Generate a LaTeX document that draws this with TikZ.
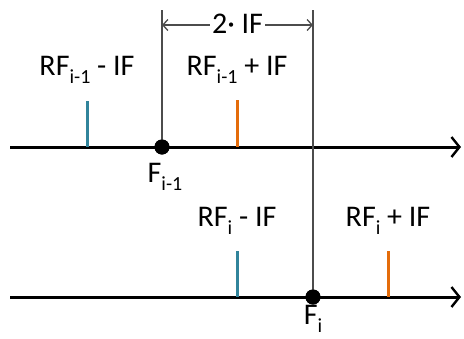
\documentclass[tikz,border=0pt]{standalone}
\usepackage{fontspec}
\setmainfont{Carlito}
\usetikzlibrary{arrows.meta}
\definecolor{tickblue}{HTML}{31849B}
\definecolor{tickorange}{HTML}{E46C0A}
\newcommand{\mysb}[1]{\raisebox{-0.25em}{\fontsize{20}{20}\selectfont #1}}
\begin{document}
\begin{tikzpicture}[x=1pt,y=-1pt,
  axis/.style={line width=3pt,-{Straight Barb[length=8pt,width=20pt,line width=2.4pt]}},
  guide/.style={line width=1.3pt,draw=black!70},
  tickb/.style={line width=3pt,draw=tickblue},
  ticko/.style={line width=3pt,draw=tickorange},
  lab/.style={font=\fontsize{30}{30}\selectfont,inner sep=0pt},
  dotn/.style={circle,fill=black,minimum size=15pt,inner sep=0pt}]
\useasboundingbox (0,0) rectangle (464,338);
% axes
\coordinate (a1s) at (10,147);
\coordinate (a1e) at (461,147);
\coordinate (a2s) at (10,297);
\coordinate (a2e) at (461,297);
\draw[axis] (a1s) -- (a1e);
\draw[axis] (a2s) -- (a2e);
% guide lines
\coordinate (g1) at (162,10);
\coordinate (g2) at (313,10);
\node[dotn] (f1) at (162,147) {};
\node[dotn] (f2) at (313,297) {};
\draw[guide] (g1) -- (f1.center);
\draw[guide] (g2) -- (f2.center);
\node[dotn] at (162,147) {};
\node[dotn] at (313,297) {};
% dimension
\coordinate (d1) at (162,25);
\coordinate (d2) at (313,25);
\node[lab,fill=white,inner xsep=2pt] (dim) at (237.5,24) {2· IF};
\draw[line width=1.3pt,draw=black!70,-{Straight Barb[length=5pt,width=11pt]}] (dim.west|-d1) -- (d1);
\draw[line width=1.3pt,draw=black!70,-{Straight Barb[length=5pt,width=11pt]}] (dim.east|-d2) -- (d2);
% ticks
\coordinate (t1a) at (87,101); \coordinate (t1b) at (87,147);
\coordinate (t2a) at (237,100); \coordinate (t2b) at (237,147);
\coordinate (t3a) at (237,251); \coordinate (t3b) at (237,297);
\coordinate (t4a) at (388,251); \coordinate (t4b) at (388,297);
\draw[tickb] (t1a) -- (t1b);
\draw[ticko] (t2a) -- (t2b);
\draw[tickb] (t3a) -- (t3b);
\draw[ticko] (t4a) -- (t4b);
% labels
\node[lab] (l1) at (87,70) {RF\mysb{i-1} - IF};
\node[lab] (l2) at (237,70) {RF\mysb{i-1} + IF};
\node[lab] (l3) at (237,221) {RF\mysb{i} - IF};
\node[lab] (l4) at (388,221) {RF\mysb{i} + IF};
\node[lab] (n1) at (165,177) {F\mysb{i-1}};
\node[lab] (n2) at (313,319) {F\mysb{i}};
\end{tikzpicture}
\end{document}
